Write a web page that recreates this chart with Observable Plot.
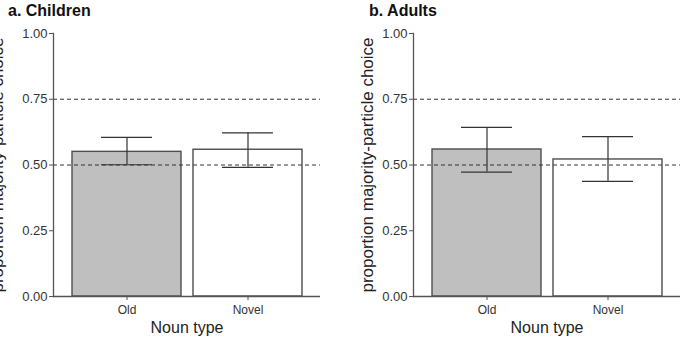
<!DOCTYPE html>
<html>
<head>
<meta charset="utf-8">
<script src="https://cdn.jsdelivr.net/npm/d3@7"></script>
<script src="https://cdn.jsdelivr.net/npm/@observablehq/plot@0.6"></script>
<style>
  html, body { margin: 0; padding: 0; background: #fff; overflow: hidden; }
  #wrap { display: flex; width: 687px; height: 338px; }
  .panel { position: relative; }
  .title { height: 20px; line-height: 20px; padding-top: 2px; margin-bottom: -2px;
           font: bold 16px Arial, "Liberation Sans", sans-serif; color: #111; }
  svg { display: block; }
</style>
</head>
<body>
<div id="wrap"></div>
<script>
const panelTitles = ["a. Children", "b. Adults"];
const nounTypes = ["Old", "Novel"];
const childrenMean = [0.550, 0.558];
const childrenLow = [0.501, 0.491];
const childrenHigh = [0.605, 0.622];
const adultsMean = [0.559, 0.521];
const adultsLow = [0.473, 0.438];
const adultsHigh = [0.643, 0.608];
const yTicks = [0, 0.25, 0.5, 0.75, 1];
const refLines = [0.5, 0.75];
const barFills = ["#bfbfbf", "#ffffff"];
const yLabel = "proportion majority-particle choice";
const xLabel = "Noun type";

const FONT = "Arial, 'Liberation Sans', sans-serif";

function panel(title, means, lows, highs, width, marginRight, labelDx, titlePad) {
  const data = nounTypes.map((t, i) => ({type: t, mean: means[i], low: lows[i], high: highs[i], fill: barFills[i]}));
  const div = document.createElement("div");
  div.className = "panel";
  div.style.width = width + "px";
  const h = document.createElement("div");
  h.className = "title";
  h.style.paddingLeft = titlePad + "px";
  h.textContent = title;
  div.appendChild(h);
  const chart = Plot.plot({
    width, height: 318,
    marginTop: 13, marginBottom: 42, marginLeft: 53, marginRight,
    style: {fontFamily: FONT, fontSize: "13px", background: "white", color: "#333", overflow: "visible"},
    x: {domain: nounTypes, paddingInner: 0.1, paddingOuter: 0.15, label: null, axis: null},
    y: {domain: [0, 1], label: null, axis: null},
    marks: [
      Plot.barY(data, {x: "type", y: "mean", fill: "fill", stroke: "#4d4d4d", strokeWidth: 1.4}),
      Plot.ruleY(refLines, {stroke: "#333", strokeDasharray: "4,3", strokeWidth: 1}),
      Plot.ruleX(data, {x: "type", y1: "low", y2: "high", stroke: "#333", strokeWidth: 1.2}),
      Plot.tickY(data, {x: "type", y: "low", stroke: "#333", strokeWidth: 1.2, insetLeft: 29, insetRight: 29}),
      Plot.tickY(data, {x: "type", y: "high", stroke: "#333", strokeWidth: 1.2, insetLeft: 29, insetRight: 29}),
      Plot.ruleY([0], {stroke: "#555", strokeWidth: 1.3}),
      Plot.frame({anchor: "left", stroke: "#555", strokeWidth: 1.3}),
      Plot.axisY({ticks: yTicks, tickFormat: d3.format(".2f"), tickSize: 4, tickPadding: 2,
                  fontSize: 13, stroke: "#555", fill: "#333", label: null}),
      Plot.axisX({tickSize: 4, tickPadding: 5, fontSize: 12, stroke: "#555", fill: "#333", label: null}),
      Plot.text([yLabel], {frameAnchor: "left", rotate: -90, dx: labelDx, fontSize: 17, fill: "#222",
                           textAnchor: "middle", lineAnchor: "middle"}),
      Plot.text([xLabel], {frameAnchor: "bottom", dy: 31, fontSize: 16, fill: "#222", lineAnchor: "middle"})
    ]
  });
  div.appendChild(chart);
  return div;
}

const wrap = document.getElementById("wrap");
wrap.appendChild(panel(panelTitles[0], childrenMean, childrenLow, childrenHigh, 360, 40, -56, 8));
wrap.appendChild(panel(panelTitles[1], adultsMean, adultsLow, adultsHigh, 327, 7, -46, 9));
</script>
</body>
</html>
